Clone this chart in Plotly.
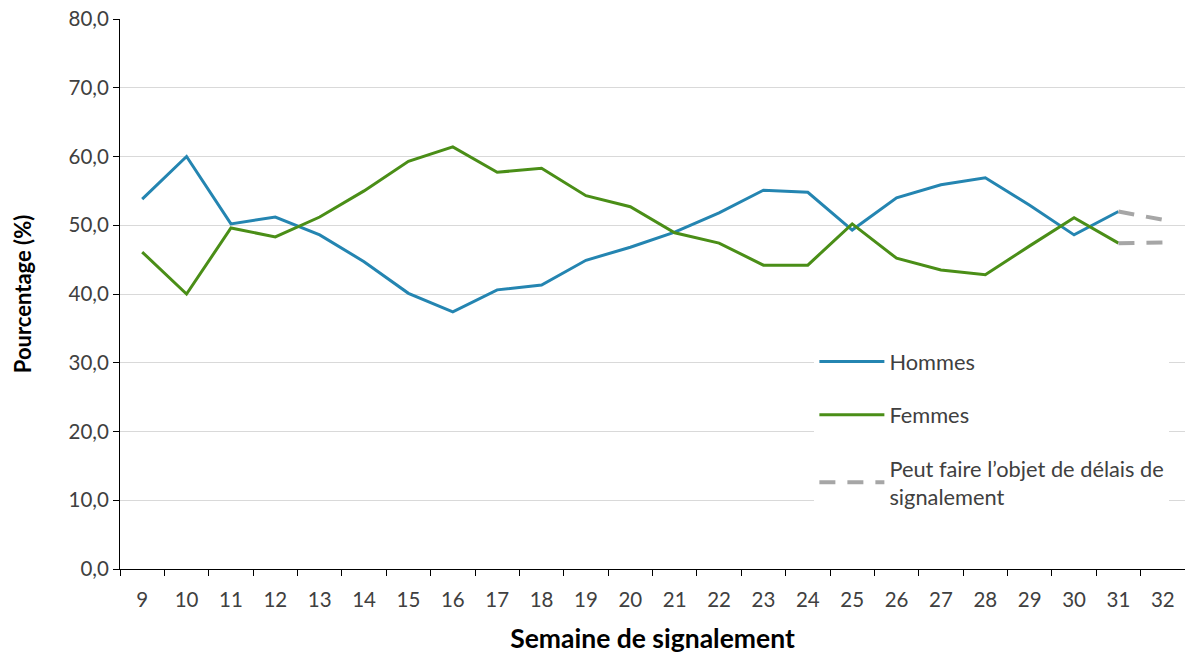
import plotly.graph_objects as go

weeks = [str(w) for w in range(9, 33)]
hommes = [53.8, 60.0, 50.2, 51.2, 48.6, 44.7, 40.1, 37.4, 40.6, 41.3, 44.9, 46.8,
          49.0, 51.8, 55.1, 54.8, 49.3, 54.0, 55.9, 56.9, 52.9, 48.6, 52.0]
femmes = [46.1, 40.0, 49.6, 48.3, 51.2, 55.0, 59.3, 61.4, 57.7, 58.3, 54.3, 52.7,
          48.9, 47.4, 44.2, 44.2, 50.2, 45.2, 43.5, 42.8, 47.0, 51.1, 47.4]
hommes_delai = [52.0, 50.8]
femmes_delai = [47.4, 47.5]
delai_weeks = ["31", "32"]

FONT = "Lato"
fig = go.Figure()
fig.add_trace(go.Scatter(x=weeks[:23], y=hommes, mode="lines", name="Hommes",
                         line=dict(color="#2485b1", width=3), legendgroup="h"))
fig.add_trace(go.Scatter(x=weeks[:23], y=femmes, mode="lines", name="Femmes",
                         line=dict(color="#4a8e17", width=3), legendgroup="f"))
fig.add_trace(go.Scatter(x=delai_weeks, y=hommes_delai, mode="lines",
                         name="Peut faire l’objet de délais de<br>signalement",
                         line=dict(color="#a6a6a6", width=4, dash="16px,12px"),
                         legendgroup="d"))
fig.add_trace(go.Scatter(x=delai_weeks, y=femmes_delai, mode="lines", showlegend=False,
                         line=dict(color="#a6a6a6", width=4, dash="16px,12px"),
                         legendgroup="d"))

fig.update_layout(
    width=1185, height=654,
    margin=dict(l=120, r=0, t=19, b=85),
    plot_bgcolor="white", paper_bgcolor="white",
    separators=", ",
    font=dict(family=FONT, size=20, color="#404040"),
    showlegend=True,
    legend=dict(x=0.652, y=0.415, xanchor="left", yanchor="top",
                font=dict(family=FONT, size=21.8, color="#404040"),
                itemwidth=65, tracegroupgap=22, bgcolor="white"),
    xaxis=dict(type="category", range=[-0.5, 23.5], tickson="boundaries",
               ticks="outside", ticklen=6, automargin=False,
               tickcolor="black", showline=True, linecolor="black", linewidth=1,
               showgrid=False, tickfont=dict(size=20.5, color="#404040"),
               ticklabelstandoff=12,
               title=dict(text="<b>Semaine de signalement</b>",
                          font=dict(size=26.5, color="black"), standoff=23)),
    yaxis=dict(range=[0, 80], dtick=10, tickformat=".1f", ticks="outside", ticklen=6,
               automargin=False,
               tickcolor="black", showline=True, linecolor="black", linewidth=1,
               showgrid=True, gridcolor="#d9d9d9", gridwidth=1, zeroline=False,
               tickfont=dict(size=20.5, color="#404040"),
               title=dict(text="<b>Pourcentage (%)</b>",
                          font=dict(size=22, color="black"), standoff=30)),
)

fig.write_html("out.html", config={"displayModeBar": False},
               post_script="document.body.style.margin='0';document.body.style.padding='0';")
